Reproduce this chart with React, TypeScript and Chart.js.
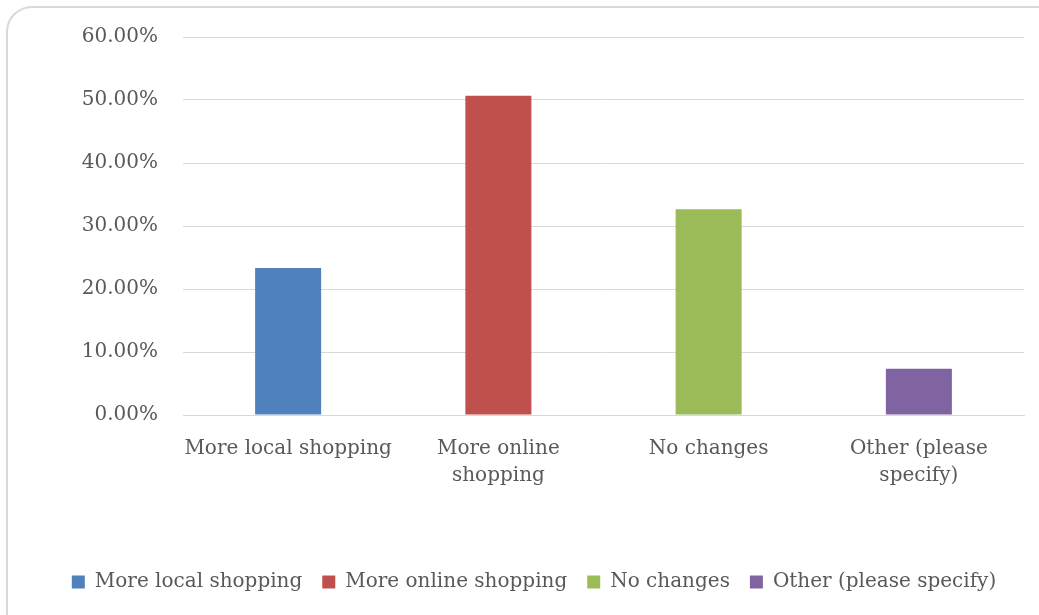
import React, { useEffect, useRef } from "react";
import { Chart, registerables } from "chart.js";

Chart.register(...registerables);

const categories: (string | string[])[] = [
  "More local shopping",
  ["More online", "shopping"],
  "No changes",
  ["Other (please", "specify)"],
];
const seriesNames = ["More local shopping", "More online shopping", "No changes", "Other (please specify)"];
const values = [23.33, 50.67, 32.67, 7.33];
const colors = ["#4F81BD", "#C0504D", "#9BBB59", "#8064A2"];
const yTicks = [0, 10, 20, 30, 40, 50, 60];

const FONT = "'DejaVu Serif', serif";
const TEXT = "#595959";

export default function App() {
  const ref = useRef<HTMLCanvasElement>(null);
  useEffect(() => {
    if (!ref.current) return;
    const datasets = seriesNames.map((name, i) => ({
      label: name,
      data: categories.map((_, j) => (j === i ? values[i] : null)),
      backgroundColor: colors[i],
      borderWidth: 0,
      barPercentage: 1,
      categoryPercentage: 0.314,
      skipNull: true,
      grouped: false,
    }));
    const chart = new Chart(ref.current, {
      type: "bar",
      data: { labels: categories as any, datasets: datasets as any },
      options: {
        animation: false,
        responsive: false,
        maintainAspectRatio: false,
        layout: { padding: { left: 44, right: 15, top: 37, bottom: 13 } },
        plugins: {
          tooltip: { enabled: false },
          legend: {
            position: "bottom",
            labels: {
              boxWidth: 13,
              boxHeight: 13,
              padding: 20,
              color: TEXT,
              font: { family: FONT, size: 20 },
            },
          },
        },
        scales: {
          x: {
            grid: { display: false, drawTicks: false },
            border: { display: true, color: "#d9d9d9", width: 1 },
            ticks: {
              color: TEXT,
              font: { family: FONT, size: 20, lineHeight: 1.35 },
              padding: 20,
              maxRotation: 0,
              autoSkip: false,
            },
            afterFit: (s: any) => {
              s.height = 137;
            },
          },
          y: {
            min: 0,
            max: 60,
            afterBuildTicks: (s: any) => {
              s.ticks = yTicks.map((v) => ({ value: v }));
            },
            grid: { color: "#d9d9d9", lineWidth: 1, drawTicks: false },
            border: { display: false },
            ticks: {
              color: TEXT,
              font: { family: FONT, size: 20 },
              padding: 25,
              callback: (v: any) => Number(v).toFixed(2) + "%",
            },
            afterFit: (s: any) => {
              s.width = 139;
            },
          },
        },
      },
    });
    return () => chart.destroy();
  }, []);
  return (
    <div style={{ position: "absolute", left: 0, top: 0, width: 1039, height: 615, overflow: "hidden", background: "#fff" }}>
      <div
        style={{
          position: "absolute",
          left: 6,
          top: 6,
          width: 1060,
          height: 640,
          border: "2px solid #d9d9d9",
          borderRadius: 26,
          boxSizing: "border-box",
        }}
      />
      <canvas ref={ref} width={1039} height={615} style={{ position: "absolute", left: 0, top: 0 }} />
    </div>
  );
}
